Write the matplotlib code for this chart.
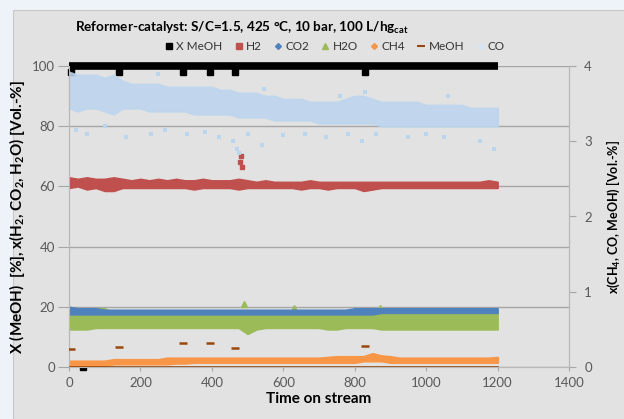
import numpy as np
import matplotlib
matplotlib.use("Agg")
import matplotlib.pyplot as plt
from matplotlib.lines import Line2D
from matplotlib.patches import Rectangle

plt.rcParams['font.family'] = ['Lato', 'DejaVu Sans']
plt.rcParams['mathtext.fontset'] = 'custom'
plt.rcParams['mathtext.rm'] = 'Lato'
plt.rcParams['mathtext.bf'] = 'Lato:bold'
plt.rcParams['mathtext.default'] = 'bf'

# sample times (h)
t = [0, 25, 50, 75, 100, 125, 150, 175, 200, 225,
     250, 275, 300, 325, 350, 375, 400, 425, 450, 475,
     500, 525, 550, 575, 600, 625, 650, 675, 700, 725,
     750, 775, 800, 825, 850, 875, 900, 925, 950, 975,
     1000, 1025, 1050, 1075, 1100, 1125, 1150, 1175, 1200]

# left axis series, band limits [Vol.-%]
h2_hi = [63, 62.5, 63, 62.5, 62.5, 63, 62.5, 62, 62.5, 62,
         62.5, 62, 62.5, 62, 62, 62.5, 62, 62, 62, 62.5,
         62, 61.5, 62, 61.5, 61.5, 61.5, 61.5, 62, 61.5, 61.5,
         61.5, 61.5, 61.5, 61.5, 61.5, 61.5, 61.5, 61.5, 61.5, 61.5,
         61.5, 61.5, 61.5, 61.5, 61.5, 61.5, 61.5, 62, 61.5]
h2_lo = [59.5, 60, 59, 59.5, 58.5, 58.5, 59.5, 59.5, 59.5, 59.5,
         59.5, 59.5, 59.5, 59.5, 59, 59.5, 59.5, 59.5, 59.5, 59,
         59.5, 59.5, 59.5, 59.5, 59.5, 59.5, 59, 59.5, 59.5, 59,
         59.5, 59.5, 59.5, 58.5, 59, 59.5, 59.5, 59.5, 59.5, 59.5,
         59.5, 59.5, 59.5, 59.5, 59.5, 59.5, 59.5, 59.5, 59.5]
h2_out_t = [478, 482, 485]
h2_out = [68, 70, 66.5]

co2_hi = [20, 19.5, 19.5, 19.5, 19, 19, 19, 19, 19, 19,
          19, 19, 19, 19, 19, 19, 19, 19, 19, 19,
          19, 19, 19, 19, 19, 19, 19, 19, 19, 19,
          19, 19, 19.5, 19.5, 19.5, 19.5, 19.5, 19.5, 19.5, 19.5,
          19.5, 19.5, 19.5, 19.5, 19.5, 19.5, 19.5, 19.5, 19.5]
co2_lo = [17.5, 17.5, 17.5, 17.5, 17.5, 17.5, 17.5, 17.5, 17.5, 17.5,
          17.5, 17.5, 17.5, 17.5, 17.5, 17.5, 17.5, 17.5, 17.5, 17.5,
          17.5, 17.5, 17.5, 17.5, 17.5, 17.5, 17.5, 17.5, 17.5, 17.5,
          17.5, 17.5, 17.5, 17.5, 17.5, 18, 18, 18, 18, 18,
          18, 18, 18, 18, 18, 18, 18, 18, 18]

h2o_hi = [19, 19.5, 19, 19.5, 19.5, 18, 18.5, 18, 18, 17.5,
          18, 18, 17.5, 18, 18, 18, 17.5, 18, 18, 18.5,
          17.5, 17.5, 18, 17.5, 17.5, 18, 17.5, 18, 18, 17.5,
          17.5, 18, 17.5, 18.5, 18.5, 18, 17.5, 17.5, 18, 17.5,
          18, 18, 17.5, 18, 18, 17.5, 18, 18, 18]
h2o_lo = [12.5, 12.5, 12.5, 13, 13, 13, 13, 13, 13, 13,
          13, 13, 13, 13, 13, 13, 13, 13, 13, 13,
          11, 12.5, 13, 13, 13, 13, 13, 13, 13, 12.5,
          12.5, 13, 13, 13, 13, 12.5, 12.5, 12.5, 12.5, 12.5,
          12.5, 12.5, 12.5, 12.5, 12.5, 12.5, 12.5, 12.5, 12.5]
h2o_out_t = [490, 630, 870]
h2o_out = [21, 19.5, 19.5]

# MeOH conversion [%]
xmeoh_run_t = [0, 1200]
xmeoh_run = [100, 100]
xmeoh_dip_t = [5, 140, 320, 395, 465, 830, 40]
xmeoh_dip = [98, 98, 98, 98, 98, 98, 0]

# right axis series [Vol.-%]
ch4_hi = [0.08, 0.08, 0.08, 0.08, 0.08, 0.10, 0.10, 0.10, 0.10, 0.10,
          0.10, 0.12, 0.12, 0.12, 0.12, 0.12, 0.12, 0.12, 0.12, 0.12,
          0.12, 0.12, 0.12, 0.12, 0.12, 0.12, 0.12, 0.12, 0.12, 0.13,
          0.14, 0.14, 0.14, 0.14, 0.18, 0.15, 0.14, 0.12, 0.12, 0.12,
          0.12, 0.12, 0.12, 0.12, 0.12, 0.12, 0.12, 0.12, 0.13]
ch4_lo = [0.02, 0.02, 0.02, 0.02, 0.02, 0.04, 0.04, 0.04, 0.04, 0.04,
          0.04, 0.04, 0.05, 0.05, 0.06, 0.06, 0.06, 0.06, 0.06, 0.06,
          0.06, 0.06, 0.06, 0.06, 0.06, 0.06, 0.06, 0.06, 0.06, 0.06,
          0.06, 0.06, 0.06, 0.08, 0.08, 0.08, 0.06, 0.06, 0.06, 0.06,
          0.06, 0.06, 0.06, 0.06, 0.06, 0.06, 0.06, 0.06, 0.06]

co_hi = [3.92, 3.88, 3.88, 3.88, 3.84, 3.88, 3.80, 3.76, 3.76, 3.76,
         3.76, 3.72, 3.72, 3.72, 3.72, 3.72, 3.72, 3.68, 3.68, 3.64,
         3.64, 3.64, 3.60, 3.60, 3.56, 3.56, 3.56, 3.52, 3.52, 3.52,
         3.52, 3.56, 3.60, 3.60, 3.56, 3.52, 3.52, 3.52, 3.52, 3.52,
         3.48, 3.48, 3.48, 3.48, 3.48, 3.44, 3.44, 3.44, 3.44]
co_lo = [3.44, 3.40, 3.44, 3.44, 3.40, 3.36, 3.44, 3.44, 3.44, 3.40,
         3.40, 3.40, 3.40, 3.40, 3.36, 3.36, 3.36, 3.36, 3.36, 3.32,
         3.32, 3.32, 3.32, 3.28, 3.28, 3.28, 3.28, 3.28, 3.24, 3.24,
         3.24, 3.24, 3.24, 3.24, 3.24, 3.20, 3.20, 3.20, 3.20, 3.20,
         3.20, 3.20, 3.20, 3.20, 3.20, 3.20, 3.20, 3.20, 3.20]
co_out_t = [20, 50, 100, 160, 230, 250, 270, 330, 380, 420, 460, 470, 475,
            500, 540, 545, 600, 660, 720, 760, 780, 820, 830, 860, 950,
            1000, 1050, 1060, 1150, 1190]
co_out = [3.15, 3.10, 3.20, 3.05, 3.10, 3.90, 3.15, 3.10, 3.12, 3.05, 3.00,
          2.90, 2.85, 3.10, 2.95, 3.70, 3.08, 3.10, 3.05, 3.60, 3.10, 3.00,
          3.65, 3.10, 3.05, 3.10, 3.05, 3.60, 3.00, 2.90]

meoh_t = [5, 140, 320, 395, 465, 830]
meoh = [0.24, 0.27, 0.32, 0.32, 0.25, 0.28]
meoh_zero_t = [0, 1200]
meoh_zero = [0, 0]

c_h2, c_co2, c_h2o = '#c0504d', '#4f81bd', '#9bbb59'
c_ch4, c_meoh, c_co = '#f79646', '#98480c', '#bcd5ee'
grey = '#a6a6a6'

fig = plt.figure(figsize=(6.24, 4.19), dpi=100)
fig.patch.set_facecolor('#eef3fa')
fig.patches.append(Rectangle((13 / 624, 0), 1, 1 - 10 / 419, transform=fig.transFigure,
                             facecolor='#e2e2e2', edgecolor='#c8c8c8', lw=0.8, zorder=-10))

ax = fig.add_axes([69 / 624, 1 - 367 / 419, 500 / 624, 301 / 419])
ax.set_facecolor('#e2e2e2')
ax2 = ax.twinx()

ax.fill_between(t, h2_lo, h2_hi, color=c_h2, lw=1.2, edgecolor=c_h2, zorder=3)
ax.plot(h2_out_t, h2_out, 's', color=c_h2, ms=3.5, zorder=3)
ax.fill_between(t, h2o_lo, h2o_hi, color=c_h2o, lw=1.2, edgecolor=c_h2o, zorder=3)
ax.plot(h2o_out_t, h2o_out, '^', color=c_h2o, ms=4, zorder=3)
ax.fill_between(t, co2_lo, co2_hi, color=c_co2, lw=1.2, edgecolor=c_co2, zorder=3)
ax.plot(xmeoh_run_t, xmeoh_run, '-', color='black', lw=5.5, solid_capstyle='butt',
        clip_on=False, zorder=5)
ax.plot(xmeoh_dip_t, xmeoh_dip, 's', color='black', ms=4.5, clip_on=False, zorder=5)

ax2.fill_between(t, co_lo, co_hi, color=c_co, lw=1.5, edgecolor=c_co, alpha=0.85, zorder=1)
ax2.plot(co_out_t, co_out, 's', color=c_co, ms=2.2, mew=0, zorder=1)
ax2.fill_between(t, ch4_lo, ch4_hi, color=c_ch4, lw=1.5, edgecolor=c_ch4, zorder=2)
ax2.plot(meoh_t, meoh, '_', color=c_meoh, ms=6, mew=1.8, zorder=3)
ax2.plot(meoh_zero_t, meoh_zero, '-', color=c_meoh, lw=1.2, zorder=3)

ax.set_xlim(0, 1400)
ax.set_ylim(0, 100)
ax2.set_ylim(0, 4)
ax.set_xticks(range(0, 1401, 200))
ax.set_yticks(range(0, 101, 20))
ax2.set_yticks(range(0, 5))

ax.grid(axis='y', color=grey, lw=1)
ax.set_axisbelow(True)
for a in (ax, ax2):
    for s in a.spines.values():
        s.set_color('#b8b8b8')
    a.spines['top'].set_visible(False)
ax.tick_params(axis='y', length=8, color=grey, labelsize=9.5, labelcolor='#595959', pad=2)
ax.tick_params(axis='x', length=3, color=grey, labelsize=9.5, labelcolor='#595959', pad=4)
ax2.tick_params(axis='y', length=5, color=grey, labelsize=9.5, labelcolor='#595959', pad=6)

ax.set_xlabel('Time on stream', fontweight='bold', fontsize=11, labelpad=2)
ax.set_ylabel('X (MeOH)  [%], x(H$_2$, CO$_2$, H$_2$O) [Vol.-%]', fontweight='bold',
              fontsize=11, labelpad=4)
ax2.set_ylabel('x(CH$_4$, CO, MeOH) [Vol.-%]', fontweight='bold', fontsize=9, labelpad=9)

fig.text(75 / 624, 1 - 28 / 419, 'Reformer-catalyst: S/C=1.5, 425 °C, 10 bar, 100 L/hg$_{cat}$',
         fontweight='bold', fontsize=9.7, va='center', ha='left')

handles = [Line2D([], [], ls='none', marker='s', color='black', ms=4),
           Line2D([], [], ls='none', marker='s', color=c_h2, ms=4),
           Line2D([], [], ls='none', marker='D', color=c_co2, ms=3),
           Line2D([], [], ls='none', marker='^', color=c_h2o, ms=4),
           Line2D([], [], ls='none', marker='D', color=c_ch4, ms=3),
           Line2D([], [], ls='none', marker='_', color=c_meoh, ms=6, mew=1.5),
           Line2D([], [], ls='none', marker='s', color='#d6e4f3', ms=3)]
labels = ['X MeOH', 'H2', 'CO2', 'H2O', 'CH4', 'MeOH', 'CO']
fig.legend(handles, labels, loc='center', bbox_to_anchor=(335 / 624, 1 - 47 / 419), ncol=7,
           frameon=False, fontsize=8.5, handlelength=0.6, handletextpad=0.3,
           columnspacing=1.1, labelcolor='#333333')

fig.savefig('out.png', dpi=100, facecolor=fig.get_facecolor())
